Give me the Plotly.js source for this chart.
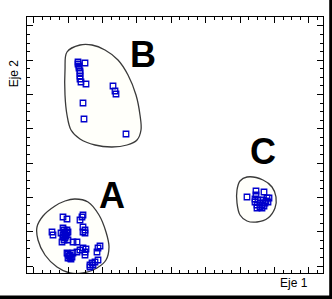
<!DOCTYPE html>
<html>
<head>
<meta charset="utf-8">
<script src="https://cdn.plot.ly/plotly-3.0.1.min.js"></script>
<style>html,body{margin:0;padding:0;background:#fff;}#chart{width:332px;height:299px;}</style>
</head>
<body>
<div id="chart"></div>
<script>
// Group A points (Eje 1, Eje 2)
const groupAx = [36,40,55,56,53,25,26,36,38,36,40,41,38,35,41,46,50,56,58,56,58,40,43,41,45,46,50,53,56,58,58,71,73,70,63,65,68,71,63,66,37,39,34,42,44,59,36,38,40,37,41,43];
const groupAy = [56,54,56,58,53,41,38,45,41,38,40,41,35,31,33,31,31,46,43,41,40,20,18,15,16,20,21,23,25,21,18,25,27,21,8,10,11,13,6,8,43,37,40,17,14,24,36,39,43,33,19,15];
// Group B points
const groupBx = [51,51,52,52,53,53,53,53,54,58,59,56,57,86,88,89,99];
const groupBy = [211,209,207,205,202,200,197,194,191,210,189,170,154,187,182,179,139];
// Group C points
const groupCx = [220,229,229,237,228,230,235,240,241,238,233,231,236,235,239,242,230,228,233,237];
const groupCy = [76,82,78,81,71,65,65,75,71,70,70,73,73,68,72,75,68,74,66,67];
// Cluster outlines
const hullAx = [48,61,72,79,82,79,70,56,43,30,18,11,10,16,28,38,48];
const hullAy = [74,71,58,41,26,13,5,0,0,6,18,33,46,57,67,72,74];
const hullBx = [53,65,78,91,101,109,113,114,110,100,85,68,53,44,40,38,38,40,53];
const hullBy = [228,228,223,213,198,178,158,143,133,128,126,128,134,143,158,178,203,221,228];
const hullCx = [220,236,245,249,248,241,230,220,213,210,210,213,220];
const hullCy = [96,93,86,76,65,55,51,52,58,70,83,92,96];
// Cluster labels
const labels = ["A","B","C"];
const labelX = [85,116,236];
const labelY = [78,219,122];

const hullStyle = {mode:'lines', line:{color:'#3a3a3a', width:1.3, shape:'spline', smoothing:1}, fill:'toself', fillcolor:'rgba(255,255,235,0.25)', hoverinfo:'skip', showlegend:false};
const ptStyle = {mode:'markers', marker:{symbol:'square-open', size:5.5, color:'#0000cc', line:{width:1.3, color:'#0000cc'}}, showlegend:false};

const data = [
  Object.assign({x:hullAx, y:hullAy, type:'scatter'}, hullStyle),
  Object.assign({x:hullBx, y:hullBy, type:'scatter'}, hullStyle),
  Object.assign({x:hullCx, y:hullCy, type:'scatter'}, hullStyle),
  Object.assign({x:groupAx, y:groupAy, type:'scatter'}, ptStyle),
  Object.assign({x:groupBx, y:groupBy, type:'scatter'}, ptStyle),
  Object.assign({x:groupCx, y:groupCy, type:'scatter'}, ptStyle)
];

const annotations = labels.map((t,i)=>({x:labelX[i], y:labelY[i], xref:'x', yref:'y', text:'<b>'+t+'</b>', showarrow:false, font:{family:'Liberation Sans, Arial', size:36, color:'#000', weight:900}, xanchor:'center', yanchor:'middle'}));
annotations.push({x:1, y:-0.005, xref:'paper', yref:'paper', xanchor:'right', yanchor:'top', xshift:-13, text:'Eje 1', showarrow:false, font:{family:'Liberation Sans, Arial', size:12, color:'#000'}});
annotations.push({x:0, y:0.78, xref:'paper', yref:'paper', xanchor:'center', yanchor:'middle', xshift:-13, text:'Eje 2', textangle:-90, showarrow:false, font:{family:'Liberation Sans, Arial', size:12, color:'#000'}});

const axisCommon = {showgrid:false, zeroline:false, showticklabels:false, showline:true, linecolor:'#000', linewidth:1, mirror:'ticks', ticks:'inside', ticklen:6, tickcolor:'#000', tickwidth:1};

const layout = {
  width:332, height:299,
  margin:{l:27, r:9, t:17, b:26},
  paper_bgcolor:'#fff', plot_bgcolor:'#fff',
  xaxis: Object.assign({range:[0,296], tickmode:'linear', tick0:6.6, dtick:34.4,
    minor:{ticks:'inside', ticklen:3, tickcolor:'#000', dtick:8.6, tick0:6.6, showgrid:false}}, axisCommon),
  yaxis: Object.assign({range:[0,256], tickmode:'linear', tick0:7, dtick:34.3,
    minor:{ticks:'inside', ticklen:3, tickcolor:'#000', dtick:8.575, tick0:7, showgrid:false}}, axisCommon),
  annotations: annotations,
  shapes:[
    {type:'rect', xref:'paper', yref:'paper', x0:1.021, x1:1.04, y0:-0.11, y1:1.1, fillcolor:'#000', line:{width:0}},
    {type:'rect', xref:'paper', yref:'paper', x0:-0.2, x1:1.04, y0:-0.11, y1:-0.0875, fillcolor:'#000', line:{width:0}}
  ],
  showlegend:false
};

Plotly.newPlot('chart', data, layout, {displayModeBar:false, staticPlot:true});
</script>
</body>
</html>
